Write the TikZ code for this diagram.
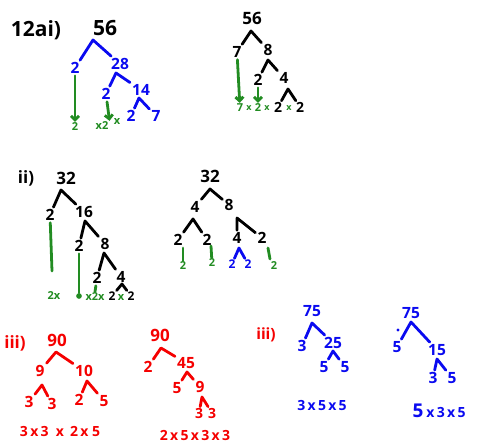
\documentclass[tikz,border=0pt]{standalone}
\usepackage{fontspec}
\setmainfont{Open Sans}
\usetikzlibrary{arrows.meta}
\definecolor{pgreen}{RGB}{34,140,34}
\definecolor{pblue}{RGB}{10,10,240}
\definecolor{pred}{RGB}{245,0,0}
\tikzset{
  big/.style={font=\bfseries\fontsize{21}{21}\selectfont, inner sep=2pt},
  mid/.style={font=\bfseries\fontsize{15.5}{15.5}\selectfont, inner sep=2pt},
  sml/.style={font=\bfseries\fontsize{11}{11}\selectfont, inner sep=1pt},
  prod/.style={font=\bfseries\fontsize{14}{14}\selectfont, inner sep=1pt},
  stroke/.style={line width=2.8pt, line cap=round, line join=round},
  garrow/.style={stroke, pgreen, -{Straight Barb[length=4pt,width=8pt]}},
}
\begin{document}
\begin{tikzpicture}[x=1pt,y=-1pt]
\useasboundingbox[fill=white] (0,0) rectangle (483,442);

% ---------- 12 a i) : 56 = 2 x 28 ----------
\node[big] (alabel) at (36,30) {12ai)};
\node[big] (a56) at (105,28) {56};
\begin{scope}[pblue]
\node[mid] (a2) at (75,68) {2};
\node[mid] (a28) at (120,64) {28};
\node[mid] (a2b) at (106,94) {2};
\node[mid] (a14) at (141,90) {14};
\node[mid] (a2c) at (131,116) {2};
\node[mid] (a7) at (156,116) {7};
\end{scope}
\coordinate (A1) at (93,40);
\coordinate (A2) at (116,73);
\coordinate (A3) at (139,98);
\draw[stroke,pblue] (a2) -- (A1) -- (a28);
\draw[stroke,pblue] (a2b) -- (A2) -- (a14);
\draw[stroke,pblue] (a2c) -- (A3) -- (a7);
\node[sml,pgreen] (ag2) at (75,127) {2};
\node[sml,pgreen] (agx2) at (102,126) {x2};
\node[sml,pgreen] (agx) at (117,121) {x};
\draw[garrow] (a2) -- (ag2);
\draw[garrow] (a2b) -- (agx2.north east);

% ---------- 56 = 7 x 8 ----------
\node[mid,font=\bfseries\fontsize{17}{17}\selectfont] (b56) at (252,18) {56};
\node[mid] (b7) at (237,52) {7};
\node[mid] (b8) at (268,50) {8};
\node[mid] (b2) at (258,80) {2};
\node[mid] (b4) at (284,78) {4};
\coordinate (B1) at (251,31);
\coordinate (B2) at (268,60);
\coordinate (B3) at (288,89);
\draw[stroke] (b7) -- (B1) -- (b8);
\draw[stroke] (b2) -- (B2) -- (b4);
\node[sml,pgreen] (bg7) at (240,108) {7};
\node[sml,pgreen,font=\bfseries\fontsize{9}{9}\selectfont] (bx1) at (249,108) {x};
\node[sml,pgreen] (bg2) at (258,108) {2};
\node[sml,pgreen,font=\bfseries\fontsize{9}{9}\selectfont] (bx2) at (267,108) {x};
\node[prod] (bk2) at (278,107) {2};
\node[sml,pgreen,font=\bfseries\fontsize{9}{9}\selectfont] (bx3) at (289,108) {x};
\node[prod] (bk2b) at (300,107) {2};
\draw[stroke] (bk2) -- (B3) -- (bk2b);
\draw[garrow] (b7) -- (bg7);
\draw[garrow] (b2) -- (bg2);

% ---------- ii) 32 = 2 x 16 ----------
\node[mid,font=\bfseries\fontsize{17}{17}\selectfont] (clabel) at (26,178) {ii)};
\node[mid,font=\bfseries\fontsize{17}{17}\selectfont] (c32) at (66,178) {32};
\node[mid] (c2) at (50,215) {2};
\node[mid] (c16) at (84,212) {16};
\node[mid] (c2b) at (79,246) {2};
\node[mid] (c8) at (105,244) {8};
\node[mid] (c2c) at (97,278) {2};
\node[mid] (c4) at (121,277) {4};
\coordinate (C1) at (61,190);
\coordinate (C2) at (85,221);
\coordinate (C3) at (104,253);
\coordinate (C4) at (122,284);
\draw[stroke] (c2) -- (C1) -- (c16);
\draw[stroke] (c2b) -- (C2) -- (c8);
\draw[stroke] (c2c) -- (C3) -- (c4);
\node[sml,pgreen] (cg2x) at (54,296) {2x};
\node[circle,fill=pgreen,inner sep=2pt] (cdot) at (79,296) {};
\node[sml,pgreen] (cgx2x) at (95,297) {x2x};
\node[sml,font=\bfseries\fontsize{12}{12}\selectfont] (ck2) at (112,296) {2};
\node[sml,pgreen] (cgx) at (121,297) {x};
\node[sml,font=\bfseries\fontsize{12}{12}\selectfont] (ck2b) at (131,296) {2};
\draw[stroke] (ck2) -- (C4) -- (ck2b);
\draw[stroke,pgreen] (c2) -- (52,271);
\draw[stroke,pgreen] (c2b) -- (cdot);
\draw[stroke,pgreen] (c2c) -- (cgx2x.north);

% ---------- 32 = 4 x 8 ----------
\node[mid,font=\bfseries\fontsize{17}{17}\selectfont] (d32) at (210,176) {32};
\node[mid] (d4) at (195,207) {4};
\node[mid] (d8) at (229,205) {8};
\node[mid] (d2a) at (178,240) {2};
\node[mid] (d2b) at (207,240) {2};
\node[mid] (d4b) at (237,238) {4};
\node[mid] (d2c) at (262,238) {2};
\coordinate (D1) at (210,189);
\coordinate (D2) at (193,219);
\coordinate (D3) at (237,218);
\draw[stroke] (d4) -- (D1) -- (d8);
\draw[stroke] (d2a) -- (D2) -- (d2b);
\draw[stroke] (d4b) -- (D3) -- (d2c);
\node[sml,pgreen] (dg2a) at (183,266) {2};
\node[sml,pgreen] (dg2b) at (212,263) {2};
\node[sml,pgreen] (dg2c) at (274,266) {2};
\node[sml,pblue,font=\bfseries\fontsize{12}{12}\selectfont] (db2a) at (232,264) {2};
\node[sml,pblue,font=\bfseries\fontsize{12}{12}\selectfont] (db2b) at (248,264) {2};
\coordinate (D4) at (239,248);
\draw[stroke,pblue] (db2a) -- (D4) -- (db2b);
\draw[stroke,pgreen] (183,248) -- (dg2a);
\draw[stroke,pgreen] (211,246) -- (dg2b);
\draw[stroke,pgreen] (268,248) -- (270,259);

% ---------- iii) 90 = 9 x 10 ----------
\begin{scope}[pred]
\node[mid,font=\bfseries\fontsize{17}{17}\selectfont] (elabel) at (15,343) {iii)};
\node[mid,font=\bfseries\fontsize{17}{17}\selectfont] (e90) at (57,340) {90};
\node[mid] (e9) at (40,371) {9};
\node[mid] (e10) at (84,371) {10};
\node[mid] (e3a) at (29,402) {3};
\node[mid] (e3b) at (52,404) {3};
\node[mid] (e2) at (79,400) {2};
\node[mid] (e5) at (104,401) {5};
\node[prod] (eprod) at (60,431) {3\,x\,3\ \ x\ \,2\,x\ 5};
\end{scope}
\coordinate (E1) at (56,352);
\coordinate (E2) at (42,385);
\coordinate (E3) at (87,381);
\draw[stroke,pred] (e9) -- (E1) -- (e10);
\draw[stroke,pred] (e3a) -- (E2) -- (e3b);
\draw[stroke,pred] (e2) -- (E3) -- (e5);

% ---------- 90 = 2 x 45 ----------
\begin{scope}[pred]
\node[mid,font=\bfseries\fontsize{17}{17}\selectfont] (f90) at (160,335) {90};
\node[mid] (f2) at (148,367) {2};
\node[mid] (f45) at (186,363) {45};
\node[mid] (f5) at (177,388) {5};
\node[mid] (f9) at (200,387) {9};
\node[prod] (f3a) at (199,413) {3};
\node[prod] (f3b) at (212,413) {3};
\node[prod] (fprod) at (195,435) {2\,x\,5\,x\,3\,x\,3};
\end{scope}
\coordinate (F1) at (161,348);
\coordinate (F2) at (187,372);
\coordinate (F3) at (202,397);
\draw[stroke,pred] (f2) -- (F1) -- (f45);
\draw[stroke,pred] (f5) -- (F2) -- (f9);
\draw[stroke,pred] (f3a) -- (F3) -- (f3b);

% ---------- iii) 75 = 3 x 25 ----------
\node[mid,pred] (glabel) at (266,335) {iii)};
\begin{scope}[pblue]
\node[mid] (g75) at (312,311) {75};
\node[mid] (g3) at (302,346) {3};
\node[mid] (g25) at (333,343) {25};
\node[mid] (g5a) at (324,367) {5};
\node[mid] (g5b) at (345,367) {5};
\node[prod] (gprod) at (322,405) {3\,x\,5\,x\,5};
\end{scope}
\coordinate (G1) at (312,323);
\coordinate (G2) at (333,351);
\draw[stroke,pblue] (g3) -- (G1) -- (g25);
\draw[stroke,pblue] (g5a) -- (G2) -- (g5b);

% ---------- 75 = 5 x 15 ----------
\begin{scope}[pblue]
\node[mid] (h75) at (411,313) {75};
\node[mid] (h5) at (397,347) {5};
\node[mid] (h15) at (437,350) {15};
\node[mid] (h3) at (433,378) {3};
\node[mid] (h5b) at (452,378) {5};
\node[prod] (hprod) at (446,412) {x\,3\,x\,5};
\node[mid,font=\bfseries\fontsize{19}{19}\selectfont] (hbig5) at (418,411) {5};
\node[circle,fill=pblue,inner sep=1.2pt] (hdot) at (398,330) {};
\end{scope}
\coordinate (H1) at (411,322);
\coordinate (H2) at (437,359);
\draw[stroke,pblue] (h5) -- (H1) -- (h15);
\draw[stroke,pblue] (h3) -- (H2) -- (h5b);
\end{tikzpicture}
\end{document}
